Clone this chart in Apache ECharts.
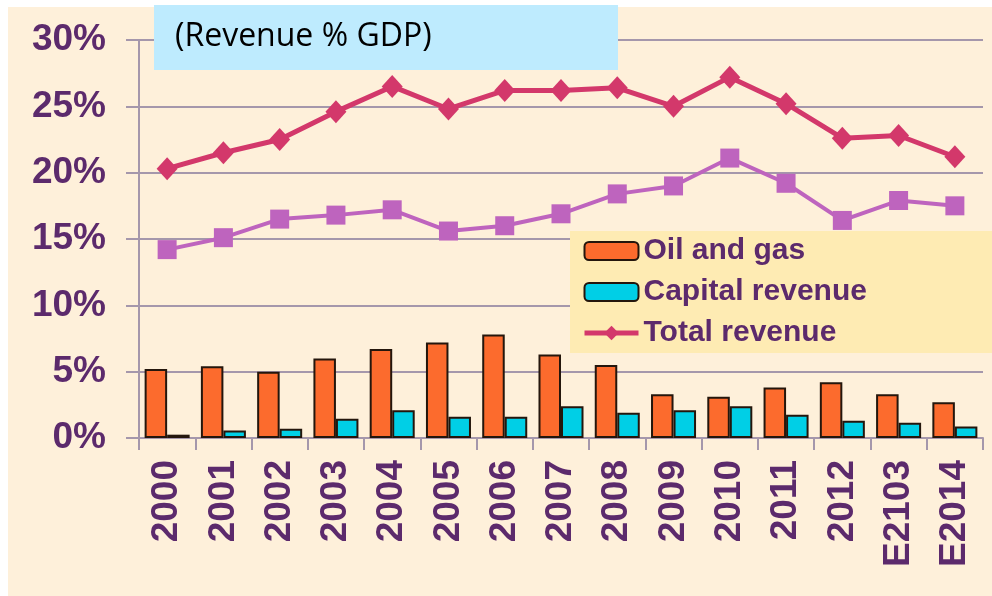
<!DOCTYPE html>
<html><head><meta charset="utf-8">
<script src="https://cdn.jsdelivr.net/npm/echarts@6/dist/echarts.min.js"></script>
<style>html,body{margin:0;padding:0;background:#fff}#c{width:992px;height:596px}</style>
</head><body><div id="c"></div>
<script>
const categories = ['2000','2001','2002','2003','2004','2005','2006','2007','2008','2009','2010','2011','2012','E2103','E2014'];
const oilGas = [5.2,5.4,5.0,6.0,6.7,7.2,7.8,6.3,5.5,3.3,3.1,3.8,4.2,3.3,2.7];
const capitalRevenue = [0.25,0.57,0.7,1.45,2.1,1.6,1.6,2.4,1.9,2.1,2.4,1.75,1.3,1.15,0.87];
const totalRevenue = [20.3,21.5,22.5,24.6,26.5,24.8,26.2,26.2,26.4,25.0,27.2,25.2,22.6,22.8,21.2];
const otherRevenue = [14.2,15.1,16.5,16.8,17.2,15.6,16.0,16.9,18.4,19.0,21.1,19.2,16.4,17.9,17.5];
const yTicks = [0,5,10,15,20,25,30];
const titleText = '(Revenue % GDP)';

const labelColor = '#5C2A6C';
const chart = echarts.init(document.getElementById('c'), null, {renderer:'canvas'});
chart.setOption({
  animation:false,
  backgroundColor:'#ffffff',
  graphic:[
    {type:'rect', z:-10, silent:true, shape:{x:8,y:7,width:984,height:589}, style:{fill:'#FEF0DA'}},
    {type:'rect', z:100, shape:{x:154,y:5,width:464,height:65}, style:{fill:'#BEEBFE'}},
    {type:'text', z:101, left:175, top:21, style:{text:titleText, fill:'#000', font:'32px "Open Sans"'}}
  ],
  grid:{left:139, right:9, top:40, bottom:158, containLabel:false},
  legend:{
    data:['Oil and gas','Capital revenue',{name:'Total revenue', lineStyle:{width:5}}],
    orient:'vertical', left:570, top:231,
    backgroundColor:'#FEEBB3',
    padding:[4,127,4,12],
    itemWidth:54, itemHeight:18, itemGap:9,
    textStyle:{fontFamily:'Liberation Sans, Arial', fontWeight:'bold', fontSize:30, lineHeight:32, color:labelColor}
  },
  xAxis:{
    type:'category', data:categories, boundaryGap:true,
    axisLine:{lineStyle:{color:'#A597AB', width:2}},
    axisTick:{show:true, length:12, lineStyle:{color:'#A597AB', width:2}},
    axisLabel:{rotate:90, margin:22, fontFamily:'Liberation Sans, Arial', fontWeight:'bold', fontSize:37, color:labelColor}
  },
  yAxis:{
    type:'value', min:0, max:30, interval:5,
    axisLine:{show:true, lineStyle:{color:'#A597AB', width:2}},
    axisTick:{show:true, length:13, lineStyle:{color:'#A597AB', width:2}},
    splitLine:{show:true, lineStyle:{color:'#A597AB', width:2}},
    axisLabel:{margin:33, formatter:v=>yTicks.includes(v)?v+'%':'', fontFamily:'Liberation Sans, Arial', fontWeight:'bold', fontSize:37, color:labelColor}
  },
  series:[
    {name:'Oil and gas', type:'bar', data:oilGas, barGap:'0%', barCategoryGap:'20%',
     itemStyle:{color:'#FC6B2D', borderColor:'#24160c', borderWidth:2}},
    {name:'Capital revenue', type:'bar', data:capitalRevenue,
     itemStyle:{color:'#00CFE6', borderColor:'#24160c', borderWidth:2}},
    {name:'Total revenue', type:'line', data:totalRevenue, symbol:'diamond', symbolSize:[21,23],
     lineStyle:{color:'#D3386B', width:5}, itemStyle:{color:'#D3386B'}},
    {name:'Non-oil revenue', type:'line', data:otherRevenue, symbol:'rect', symbolSize:19,
     lineStyle:{color:'#BE64BE', width:4}, itemStyle:{color:'#BE64BE'}}
  ]
});
</script></body></html>
